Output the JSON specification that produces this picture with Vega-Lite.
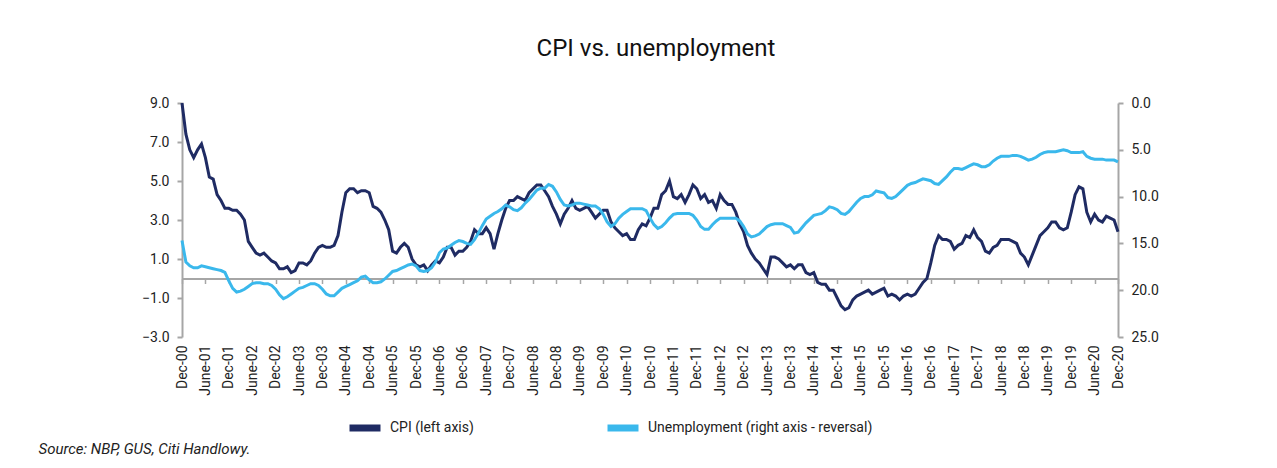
{
  "$schema": "https://vega.github.io/schema/vega-lite/v6.json",
  "width": 936,
  "height": 234,
  "autosize": {"type": "none"},
  "padding": {"left": 182, "top": 103, "right": 159, "bottom": 131},
  "background": "white",
  "config": {"view": {"stroke": null}, "font": "Roboto"},
  "title": {"text": "CPI vs. unemployment", "font": "Roboto", "fontSize": 24, "fontWeight": "normal", "color": "#111111", "offset": 35, "anchor": "middle", "frame": "group", "dx": 6},
  "data": {"values": [
    {"month":"2000-12","cpi":9.0,"unemployment":14.7},
    {"month":"2001-01","cpi":7.4,"unemployment":17.0},
    {"month":"2001-02","cpi":6.6,"unemployment":17.4},
    {"month":"2001-03","cpi":6.2,"unemployment":17.6},
    {"month":"2001-04","cpi":6.6,"unemployment":17.6},
    {"month":"2001-05","cpi":6.9,"unemployment":17.4},
    {"month":"2001-06","cpi":6.2,"unemployment":17.5},
    {"month":"2001-07","cpi":5.2,"unemployment":17.6},
    {"month":"2001-08","cpi":5.1,"unemployment":17.7},
    {"month":"2001-09","cpi":4.3,"unemployment":17.8},
    {"month":"2001-10","cpi":4.0,"unemployment":17.9},
    {"month":"2001-11","cpi":3.6,"unemployment":18.1},
    {"month":"2001-12","cpi":3.6,"unemployment":19.0},
    {"month":"2002-01","cpi":3.5,"unemployment":19.8},
    {"month":"2002-02","cpi":3.5,"unemployment":20.2},
    {"month":"2002-03","cpi":3.3,"unemployment":20.1},
    {"month":"2002-04","cpi":3.0,"unemployment":19.9},
    {"month":"2002-05","cpi":1.9,"unemployment":19.6},
    {"month":"2002-06","cpi":1.6,"unemployment":19.3},
    {"month":"2002-07","cpi":1.3,"unemployment":19.2},
    {"month":"2002-08","cpi":1.2,"unemployment":19.2},
    {"month":"2002-09","cpi":1.3,"unemployment":19.3},
    {"month":"2002-10","cpi":1.1,"unemployment":19.3},
    {"month":"2002-11","cpi":0.9,"unemployment":19.5},
    {"month":"2002-12","cpi":0.8,"unemployment":19.9},
    {"month":"2003-01","cpi":0.5,"unemployment":20.5},
    {"month":"2003-02","cpi":0.5,"unemployment":20.9},
    {"month":"2003-03","cpi":0.6,"unemployment":20.7},
    {"month":"2003-04","cpi":0.3,"unemployment":20.4},
    {"month":"2003-05","cpi":0.4,"unemployment":20.1},
    {"month":"2003-06","cpi":0.8,"unemployment":19.8},
    {"month":"2003-07","cpi":0.8,"unemployment":19.7},
    {"month":"2003-08","cpi":0.7,"unemployment":19.5},
    {"month":"2003-09","cpi":0.9,"unemployment":19.3},
    {"month":"2003-10","cpi":1.3,"unemployment":19.3},
    {"month":"2003-11","cpi":1.6,"unemployment":19.5},
    {"month":"2003-12","cpi":1.7,"unemployment":19.9},
    {"month":"2004-01","cpi":1.6,"unemployment":20.4},
    {"month":"2004-02","cpi":1.6,"unemployment":20.6},
    {"month":"2004-03","cpi":1.7,"unemployment":20.6},
    {"month":"2004-04","cpi":2.2,"unemployment":20.2},
    {"month":"2004-05","cpi":3.4,"unemployment":19.8},
    {"month":"2004-06","cpi":4.4,"unemployment":19.6},
    {"month":"2004-07","cpi":4.6,"unemployment":19.4},
    {"month":"2004-08","cpi":4.6,"unemployment":19.2},
    {"month":"2004-09","cpi":4.4,"unemployment":19.0},
    {"month":"2004-10","cpi":4.5,"unemployment":18.6},
    {"month":"2004-11","cpi":4.5,"unemployment":18.5},
    {"month":"2004-12","cpi":4.4,"unemployment":18.9},
    {"month":"2005-01","cpi":3.7,"unemployment":19.2},
    {"month":"2005-02","cpi":3.6,"unemployment":19.2},
    {"month":"2005-03","cpi":3.4,"unemployment":19.1},
    {"month":"2005-04","cpi":3.0,"unemployment":18.8},
    {"month":"2005-05","cpi":2.5,"unemployment":18.4},
    {"month":"2005-06","cpi":1.4,"unemployment":18.0},
    {"month":"2005-07","cpi":1.3,"unemployment":17.9},
    {"month":"2005-08","cpi":1.6,"unemployment":17.7},
    {"month":"2005-09","cpi":1.8,"unemployment":17.5},
    {"month":"2005-10","cpi":1.6,"unemployment":17.3},
    {"month":"2005-11","cpi":1.0,"unemployment":17.2},
    {"month":"2005-12","cpi":0.7,"unemployment":17.4},
    {"month":"2006-01","cpi":0.6,"unemployment":17.9},
    {"month":"2006-02","cpi":0.7,"unemployment":18.0},
    {"month":"2006-03","cpi":0.4,"unemployment":17.9},
    {"month":"2006-04","cpi":0.7,"unemployment":17.6},
    {"month":"2006-05","cpi":0.9,"unemployment":17.0},
    {"month":"2006-06","cpi":0.8,"unemployment":16.0},
    {"month":"2006-07","cpi":1.1,"unemployment":15.6},
    {"month":"2006-08","cpi":1.6,"unemployment":15.5},
    {"month":"2006-09","cpi":1.6,"unemployment":15.2},
    {"month":"2006-10","cpi":1.2,"unemployment":14.9},
    {"month":"2006-11","cpi":1.4,"unemployment":14.7},
    {"month":"2006-12","cpi":1.4,"unemployment":14.8},
    {"month":"2007-01","cpi":1.6,"unemployment":15.0},
    {"month":"2007-02","cpi":1.9,"unemployment":15.1},
    {"month":"2007-03","cpi":2.5,"unemployment":14.6},
    {"month":"2007-04","cpi":2.3,"unemployment":13.9},
    {"month":"2007-05","cpi":2.3,"unemployment":13.1},
    {"month":"2007-06","cpi":2.6,"unemployment":12.4},
    {"month":"2007-07","cpi":2.3,"unemployment":12.1},
    {"month":"2007-08","cpi":1.5,"unemployment":11.8},
    {"month":"2007-09","cpi":2.3,"unemployment":11.6},
    {"month":"2007-10","cpi":3.0,"unemployment":11.3},
    {"month":"2007-11","cpi":3.6,"unemployment":10.9},
    {"month":"2007-12","cpi":4.0,"unemployment":11.1},
    {"month":"2008-01","cpi":4.0,"unemployment":11.4},
    {"month":"2008-02","cpi":4.2,"unemployment":11.5},
    {"month":"2008-03","cpi":4.1,"unemployment":11.2},
    {"month":"2008-04","cpi":4.0,"unemployment":10.7},
    {"month":"2008-05","cpi":4.4,"unemployment":10.3},
    {"month":"2008-06","cpi":4.6,"unemployment":9.8},
    {"month":"2008-07","cpi":4.8,"unemployment":9.3},
    {"month":"2008-08","cpi":4.8,"unemployment":9.1},
    {"month":"2008-09","cpi":4.5,"unemployment":9.1},
    {"month":"2008-10","cpi":4.2,"unemployment":8.7},
    {"month":"2008-11","cpi":3.7,"unemployment":8.9},
    {"month":"2008-12","cpi":3.3,"unemployment":9.5},
    {"month":"2009-01","cpi":2.8,"unemployment":10.3},
    {"month":"2009-02","cpi":3.3,"unemployment":10.9},
    {"month":"2009-03","cpi":3.6,"unemployment":11.0},
    {"month":"2009-04","cpi":4.0,"unemployment":10.9},
    {"month":"2009-05","cpi":3.6,"unemployment":10.7},
    {"month":"2009-06","cpi":3.5,"unemployment":10.7},
    {"month":"2009-07","cpi":3.6,"unemployment":10.8},
    {"month":"2009-08","cpi":3.7,"unemployment":10.9},
    {"month":"2009-09","cpi":3.4,"unemployment":11.0},
    {"month":"2009-10","cpi":3.1,"unemployment":11.0},
    {"month":"2009-11","cpi":3.3,"unemployment":11.3},
    {"month":"2009-12","cpi":3.5,"unemployment":11.9},
    {"month":"2010-01","cpi":3.5,"unemployment":12.7},
    {"month":"2010-02","cpi":2.9,"unemployment":13.2},
    {"month":"2010-03","cpi":2.6,"unemployment":12.9},
    {"month":"2010-04","cpi":2.4,"unemployment":12.3},
    {"month":"2010-05","cpi":2.2,"unemployment":11.9},
    {"month":"2010-06","cpi":2.3,"unemployment":11.6},
    {"month":"2010-07","cpi":2.0,"unemployment":11.3},
    {"month":"2010-08","cpi":2.0,"unemployment":11.3},
    {"month":"2010-09","cpi":2.5,"unemployment":11.3},
    {"month":"2010-10","cpi":2.8,"unemployment":11.3},
    {"month":"2010-11","cpi":2.7,"unemployment":11.5},
    {"month":"2010-12","cpi":3.1,"unemployment":12.3},
    {"month":"2011-01","cpi":3.6,"unemployment":13.0},
    {"month":"2011-02","cpi":3.6,"unemployment":13.4},
    {"month":"2011-03","cpi":4.3,"unemployment":13.2},
    {"month":"2011-04","cpi":4.5,"unemployment":12.8},
    {"month":"2011-05","cpi":5.0,"unemployment":12.3},
    {"month":"2011-06","cpi":4.2,"unemployment":11.9},
    {"month":"2011-07","cpi":4.1,"unemployment":11.8},
    {"month":"2011-08","cpi":4.3,"unemployment":11.8},
    {"month":"2011-09","cpi":3.9,"unemployment":11.8},
    {"month":"2011-10","cpi":4.3,"unemployment":11.8},
    {"month":"2011-11","cpi":4.8,"unemployment":12.0},
    {"month":"2011-12","cpi":4.6,"unemployment":12.5},
    {"month":"2012-01","cpi":4.1,"unemployment":13.2},
    {"month":"2012-02","cpi":4.3,"unemployment":13.5},
    {"month":"2012-03","cpi":3.9,"unemployment":13.5},
    {"month":"2012-04","cpi":4.0,"unemployment":13.0},
    {"month":"2012-05","cpi":3.6,"unemployment":12.6},
    {"month":"2012-06","cpi":4.3,"unemployment":12.3},
    {"month":"2012-07","cpi":4.0,"unemployment":12.3},
    {"month":"2012-08","cpi":3.8,"unemployment":12.3},
    {"month":"2012-09","cpi":3.8,"unemployment":12.3},
    {"month":"2012-10","cpi":3.4,"unemployment":12.3},
    {"month":"2012-11","cpi":2.8,"unemployment":12.6},
    {"month":"2012-12","cpi":2.4,"unemployment":13.2},
    {"month":"2013-01","cpi":1.7,"unemployment":14.0},
    {"month":"2013-02","cpi":1.3,"unemployment":14.3},
    {"month":"2013-03","cpi":1.0,"unemployment":14.2},
    {"month":"2013-04","cpi":0.8,"unemployment":14.0},
    {"month":"2013-05","cpi":0.5,"unemployment":13.6},
    {"month":"2013-06","cpi":0.2,"unemployment":13.2},
    {"month":"2013-07","cpi":1.1,"unemployment":13.0},
    {"month":"2013-08","cpi":1.1,"unemployment":12.9},
    {"month":"2013-09","cpi":1.0,"unemployment":12.9},
    {"month":"2013-10","cpi":0.8,"unemployment":12.9},
    {"month":"2013-11","cpi":0.6,"unemployment":13.1},
    {"month":"2013-12","cpi":0.7,"unemployment":13.3},
    {"month":"2014-01","cpi":0.5,"unemployment":13.9},
    {"month":"2014-02","cpi":0.7,"unemployment":13.8},
    {"month":"2014-03","cpi":0.7,"unemployment":13.3},
    {"month":"2014-04","cpi":0.3,"unemployment":12.8},
    {"month":"2014-05","cpi":0.2,"unemployment":12.4},
    {"month":"2014-06","cpi":0.3,"unemployment":12.0},
    {"month":"2014-07","cpi":-0.2,"unemployment":11.9},
    {"month":"2014-08","cpi":-0.3,"unemployment":11.8},
    {"month":"2014-09","cpi":-0.3,"unemployment":11.5},
    {"month":"2014-10","cpi":-0.6,"unemployment":11.1},
    {"month":"2014-11","cpi":-0.6,"unemployment":11.2},
    {"month":"2014-12","cpi":-1.0,"unemployment":11.4},
    {"month":"2015-01","cpi":-1.4,"unemployment":11.8},
    {"month":"2015-02","cpi":-1.6,"unemployment":11.9},
    {"month":"2015-03","cpi":-1.5,"unemployment":11.6},
    {"month":"2015-04","cpi":-1.1,"unemployment":11.1},
    {"month":"2015-05","cpi":-0.9,"unemployment":10.6},
    {"month":"2015-06","cpi":-0.8,"unemployment":10.2},
    {"month":"2015-07","cpi":-0.7,"unemployment":10.0},
    {"month":"2015-08","cpi":-0.6,"unemployment":10.0},
    {"month":"2015-09","cpi":-0.8,"unemployment":9.8},
    {"month":"2015-10","cpi":-0.7,"unemployment":9.4},
    {"month":"2015-11","cpi":-0.6,"unemployment":9.5},
    {"month":"2015-12","cpi":-0.5,"unemployment":9.6},
    {"month":"2016-01","cpi":-0.9,"unemployment":10.1},
    {"month":"2016-02","cpi":-0.8,"unemployment":10.2},
    {"month":"2016-03","cpi":-0.9,"unemployment":10.0},
    {"month":"2016-04","cpi":-1.1,"unemployment":9.6},
    {"month":"2016-05","cpi":-0.9,"unemployment":9.2},
    {"month":"2016-06","cpi":-0.8,"unemployment":8.8},
    {"month":"2016-07","cpi":-0.9,"unemployment":8.6},
    {"month":"2016-08","cpi":-0.8,"unemployment":8.5},
    {"month":"2016-09","cpi":-0.5,"unemployment":8.3},
    {"month":"2016-10","cpi":-0.2,"unemployment":8.1},
    {"month":"2016-11","cpi":0.0,"unemployment":8.2},
    {"month":"2016-12","cpi":0.8,"unemployment":8.3},
    {"month":"2017-01","cpi":1.7,"unemployment":8.6},
    {"month":"2017-02","cpi":2.2,"unemployment":8.7},
    {"month":"2017-03","cpi":2.0,"unemployment":8.3},
    {"month":"2017-04","cpi":2.0,"unemployment":7.9},
    {"month":"2017-05","cpi":1.9,"unemployment":7.4},
    {"month":"2017-06","cpi":1.5,"unemployment":7.0},
    {"month":"2017-07","cpi":1.7,"unemployment":7.0},
    {"month":"2017-08","cpi":1.8,"unemployment":7.1},
    {"month":"2017-09","cpi":2.2,"unemployment":6.9},
    {"month":"2017-10","cpi":2.1,"unemployment":6.7},
    {"month":"2017-11","cpi":2.5,"unemployment":6.5},
    {"month":"2017-12","cpi":2.1,"unemployment":6.6},
    {"month":"2018-01","cpi":1.9,"unemployment":6.8},
    {"month":"2018-02","cpi":1.4,"unemployment":6.8},
    {"month":"2018-03","cpi":1.3,"unemployment":6.6},
    {"month":"2018-04","cpi":1.6,"unemployment":6.2},
    {"month":"2018-05","cpi":1.7,"unemployment":5.9},
    {"month":"2018-06","cpi":2.0,"unemployment":5.7},
    {"month":"2018-07","cpi":2.0,"unemployment":5.7},
    {"month":"2018-08","cpi":2.0,"unemployment":5.7},
    {"month":"2018-09","cpi":1.9,"unemployment":5.6},
    {"month":"2018-10","cpi":1.8,"unemployment":5.6},
    {"month":"2018-11","cpi":1.3,"unemployment":5.7},
    {"month":"2018-12","cpi":1.1,"unemployment":5.9},
    {"month":"2019-01","cpi":0.7,"unemployment":6.1},
    {"month":"2019-02","cpi":1.2,"unemployment":6.0},
    {"month":"2019-03","cpi":1.7,"unemployment":5.8},
    {"month":"2019-04","cpi":2.2,"unemployment":5.5},
    {"month":"2019-05","cpi":2.4,"unemployment":5.3},
    {"month":"2019-06","cpi":2.6,"unemployment":5.2},
    {"month":"2019-07","cpi":2.9,"unemployment":5.2},
    {"month":"2019-08","cpi":2.9,"unemployment":5.2},
    {"month":"2019-09","cpi":2.6,"unemployment":5.1},
    {"month":"2019-10","cpi":2.5,"unemployment":5.0},
    {"month":"2019-11","cpi":2.6,"unemployment":5.1},
    {"month":"2019-12","cpi":3.4,"unemployment":5.3},
    {"month":"2020-01","cpi":4.3,"unemployment":5.3},
    {"month":"2020-02","cpi":4.7,"unemployment":5.3},
    {"month":"2020-03","cpi":4.6,"unemployment":5.2},
    {"month":"2020-04","cpi":3.4,"unemployment":5.7},
    {"month":"2020-05","cpi":2.9,"unemployment":5.9},
    {"month":"2020-06","cpi":3.3,"unemployment":6.0},
    {"month":"2020-07","cpi":3.0,"unemployment":6.0},
    {"month":"2020-08","cpi":2.9,"unemployment":6.0},
    {"month":"2020-09","cpi":3.2,"unemployment":6.1},
    {"month":"2020-10","cpi":3.1,"unemployment":6.1},
    {"month":"2020-11","cpi":3.0,"unemployment":6.1},
    {"month":"2020-12","cpi":2.4,"unemployment":6.3}
  ]},
  "layer": [
    {
      "mark": {"type": "line", "strokeWidth": 3},
      "encoding": {
        "x": {
          "field": "month", "type": "ordinal", "sort": "ascending",
          "scale": {"type": "point", "padding": 0},
          "axis": {
            "orient": "bottom",
            "values": ["2000-12","2001-06","2001-12","2002-06","2002-12","2003-06","2003-12","2004-06","2004-12","2005-06","2005-12","2006-06","2006-12","2007-06","2007-12","2008-06","2008-12","2009-06","2009-12","2010-06","2010-12","2011-06","2011-12","2012-06","2012-12","2013-06","2013-12","2014-06","2014-12","2015-06","2015-12","2016-06","2016-12","2017-06","2017-12","2018-06","2018-12","2019-06","2019-12","2020-06","2020-12"],
            "labelExpr": "(substring(datum.value, 5, 7) == '06' ? 'June-' : 'Dec-') + substring(datum.value, 2, 4)",
            "labelAngle": 270, "labelFontSize": 14, "labelColor": "#222222", "labelPadding": 8,
            "labelOverlap": false, "labelFlush": false,
            "ticks": false, "tickSize": 0, "domain": false, "grid": false,
            "title": "Source: NBP, GUS, Citi Handlowy.",
            "titleX": -144, "titleY": 116, "titleAlign": "left", "titleAnchor": "start", "titleBaseline": "alphabetic",
            "titleFontStyle": "italic", "titleFontWeight": "normal", "titleFontSize": 15, "titleColor": "#222222"
          }
        },
        "y": {
          "field": "cpi", "type": "quantitative",
          "scale": {"domain": [-3, 9], "nice": false, "zero": false},
          "axis": {
            "orient": "left", "values": [-3, -1, 1, 3, 5, 7, 9], "format": ".1f", "title": null, "grid": false,
            "domainColor": "#a6a6a6", "domainWidth": 2, "tickColor": "#a6a6a6", "tickWidth": 2, "tickSize": 5,
            "labelFontSize": 14, "labelColor": "#222222", "labelPadding": 8
          }
        },
        "color": {
          "datum": "CPI (left axis)", "type": "nominal",
          "scale": {"domain": ["CPI (left axis)", "Unemployment (right axis - reversal)"], "range": ["#1f2b63", "#3ab8ec"]},
          "legend": {
            "orient": "none", "legendX": 164, "legendY": 306, "direction": "horizontal", "title": null,
            "symbolType": "stroke", "symbolSize": 961, "symbolStrokeWidth": 7,
            "labelFontSize": 14, "labelColor": "#222222", "labelOffset": 6, "columnPadding": 119, "labelLimit": 400
          }
        }
      }
    },
    {
      "mark": {"type": "line", "strokeWidth": 3},
      "encoding": {
        "x": {
          "field": "month", "type": "ordinal", "sort": "ascending",
          "axis": {
            "orient": "bottom", "offset": -58.5,
            "values": ["2000-12","2001-06","2001-12","2002-06","2002-12","2003-06","2003-12","2004-06","2004-12","2005-06","2005-12","2006-06","2006-12","2007-06","2007-12","2008-06","2008-12","2009-06","2009-12","2010-06","2010-12","2011-06","2011-12","2012-06","2012-12","2013-06","2013-12","2014-06","2014-12","2015-06","2015-12","2016-06","2016-12","2017-06","2017-12","2018-06","2018-12","2019-06","2019-12","2020-06","2020-12"],
            "labels": false, "title": null, "grid": false,
            "domainColor": "#a6a6a6", "domainWidth": 2, "tickColor": "#a6a6a6", "tickWidth": 1.5, "tickSize": 5
          }
        },
        "y": {
          "field": "unemployment", "type": "quantitative",
          "scale": {"domain": [0, 25], "reverse": true, "nice": false, "zero": false},
          "axis": {
            "orient": "right", "values": [0, 5, 10, 15, 20, 25], "format": ".1f", "title": null, "grid": false,
            "domainColor": "#a6a6a6", "domainWidth": 2, "tickColor": "#a6a6a6", "tickWidth": 2, "tickSize": 5,
            "labelFontSize": 14, "labelColor": "#222222", "labelPadding": 8
          }
        },
        "color": {"datum": "Unemployment (right axis - reversal)", "type": "nominal"}
      }
    }
  ],
  "resolve": {"scale": {"y": "independent"}, "axis": {"x": "independent", "y": "independent"}}
}
